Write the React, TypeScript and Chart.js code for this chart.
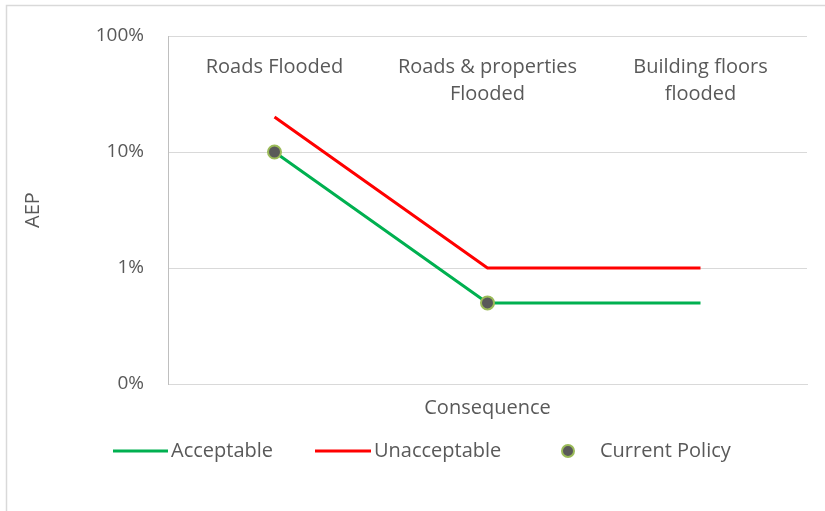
import React, { useEffect, useRef } from "react";
import { Chart, registerables } from "chart.js";

Chart.register(...registerables);

const categories: string[][] = [["Roads Flooded"], ["Roads & properties", "Flooded"], ["Building floors", "flooded"]];
const acceptable: (number | null)[] = [0.1, 0.005, 0.005];
const unacceptable: (number | null)[] = [0.2, 0.01, 0.01];
const currentPolicy: (number | null)[] = [0.1, 0.005, null];
const yTicks: number[] = [0.001, 0.01, 0.1, 1];
const xTitle = "Consequence";
const yTitle = "AEP";

const FONT = "'Open Sans', sans-serif";
const TXT = "#595959";

const overlay = {
  id: "overlay",
  afterDraw(chart: any) {
    const ctx = chart.ctx;
    const area = chart.chartArea;
    const x = chart.scales.x;
    ctx.save();
    // frame
    ctx.strokeStyle = "#D9D9D9";
    ctx.lineWidth = 1.5;
    ctx.beginPath();
    ctx.moveTo(6.5, 511);
    ctx.lineTo(6.5, 5.5);
    ctx.lineTo(825, 5.5);
    ctx.stroke();

    ctx.fillStyle = TXT;
    ctx.font = `20px ${FONT}`;
    ctx.textAlign = "center";
    ctx.textBaseline = "middle";
    // category labels inside plot
    categories.forEach((lines, i) => {
      const px = x.getPixelForValue(i);
      lines.forEach((ln, j) => ctx.fillText(ln, px, area.top + 31 + j * 27));
    });
    // x title
    ctx.fillText(xTitle, (area.left + area.right) / 2, area.bottom + 24);
    // y title
    ctx.save();
    ctx.translate(33, (area.top + area.bottom) / 2);
    ctx.rotate(-Math.PI / 2);
    ctx.fillText(yTitle, 0, 0);
    ctx.restore();

    // legend
    const ly = 451;
    const ds = chart.data.datasets;
    ctx.textAlign = "left";
    ctx.lineWidth = 3;
    ctx.strokeStyle = ds[0].borderColor;
    ctx.beginPath(); ctx.moveTo(113, ly); ctx.lineTo(168, ly); ctx.stroke();
    ctx.fillText(ds[0].label, 171, ly);
    ctx.strokeStyle = ds[1].borderColor;
    ctx.beginPath(); ctx.moveTo(315, ly); ctx.lineTo(371, ly); ctx.stroke();
    ctx.fillText(ds[1].label, 374, ly);
    ctx.beginPath();
    ctx.arc(568, ly, 6, 0, Math.PI * 2);
    ctx.fillStyle = ds[2].backgroundColor;
    ctx.fill();
    ctx.lineWidth = 2;
    ctx.strokeStyle = ds[2].borderColor;
    ctx.stroke();
    ctx.fillStyle = TXT;
    ctx.fillText(ds[2].label, 600, ly);
    ctx.restore();
  },
};

export default function App() {
  const ref = useRef<HTMLCanvasElement>(null);
  useEffect(() => {
    if (!ref.current) return;
    const chart = new Chart(ref.current, {
      type: "line",
      data: {
        labels: categories.map((c) => c.join(" ")),
        datasets: [
          { label: "Acceptable", data: acceptable, borderColor: "#00B050", backgroundColor: "#00B050", borderWidth: 3, pointRadius: 0, tension: 0, order: 2 },
          { label: "Unacceptable", data: unacceptable, borderColor: "#FF0000", backgroundColor: "#FF0000", borderWidth: 3, pointRadius: 0, tension: 0, order: 3 },
          { label: "Current Policy", data: currentPolicy, showLine: false, borderColor: "#9BBB59", backgroundColor: "#595959", borderWidth: 2, pointRadius: 6.5, order: 1 },
        ],
      },
      options: {
        responsive: false,
        animation: false,
        layout: { padding: { left: 0, top: 36, right: 18, bottom: 127 } },
        plugins: { legend: { display: false }, tooltip: { enabled: false } },
        scales: {
          x: {
            type: "category",
            offset: true,
            grid: { display: false, drawTicks: false },
            border: { display: true, color: "#D9D9D9", width: 1 },
            ticks: { display: false },
            afterFit: (s: any) => { s.height = 0; },
          },
          y: {
            type: "logarithmic",
            min: 0.001,
            max: 1,
            afterBuildTicks: (axis: any) => { axis.ticks = yTicks.map((v) => ({ value: v })); },
            afterFit: (s: any) => { s.width = 168; },
            grid: { color: "#D9D9D9", lineWidth: 1, drawTicks: false },
            border: { display: true, color: "#BFBFBF", width: 1 },
            ticks: {
              padding: 24,
              color: TXT,
              font: { family: FONT, size: 19 },
              callback: (v: any) => `${Math.round(Number(v) * 100)}%`,
            },
          },
        },
      },
      plugins: [overlay],
    });
    return () => chart.destroy();
  }, []);
  return (
    <div style={{ position: "absolute", left: 0, top: 0, width: 825, height: 511, background: "#fff" }}>
      <canvas ref={ref} width={825} height={511} />
    </div>
  );
}
